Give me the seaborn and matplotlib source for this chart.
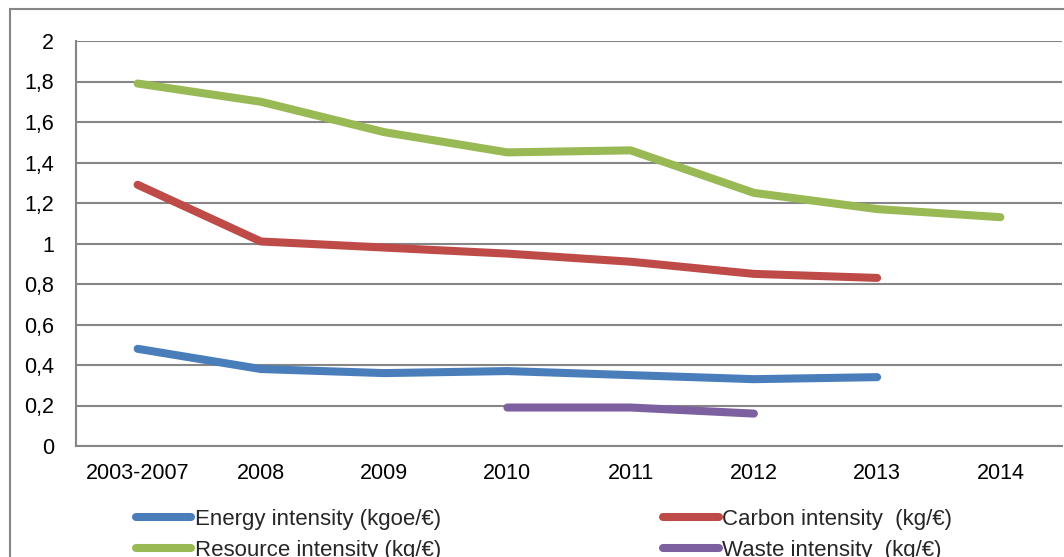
"""
Resource efficiency indicators - line chart
"""
import numpy as np
import pandas as pd
import matplotlib
matplotlib.use('Agg')
import matplotlib.pyplot as plt
from matplotlib.lines import Line2D
from matplotlib.patches import Rectangle
from matplotlib.ticker import FixedLocator, FuncFormatter
import seaborn as sns

# data
periods = ['2003-2007', '2008', '2009', '2010', '2011', '2012', '2013', '2014']
energy = [0.48, 0.38, 0.36, 0.37, 0.35, 0.33, 0.34, None]
carbon = [1.29, 1.01, 0.98, 0.95, 0.91, 0.85, 0.83, None]
resource = [1.79, 1.70, 1.55, 1.45, 1.46, 1.25, 1.17, 1.13]
waste = [None, None, None, 0.19, 0.19, 0.16, None, None]

series_names = ['Energy intensity (kgoe/€)', 'Carbon intensity  (kg/€)',
                'Resource intensity (kg/€)', 'Waste intensity  (kg/€)']
series_values = [energy, carbon, resource, waste]
colors = ['#4A7EBB', '#BE4B48', '#98B954', '#7D60A0']
y_ticks = [0, 0.2, 0.4, 0.6, 0.8, 1, 1.2, 1.4, 1.6, 1.8, 2]

rows = []
for name, vals in zip(series_names, series_values):
    for i, v in enumerate(vals):
        if v is not None:
            rows.append({'pos': i, 'period': periods[i], 'value': v, 'series': name})
df = pd.DataFrame(rows)

sns.set_theme(style='white')
plt.rcParams['font.family'] = ['Liberation Sans', 'DejaVu Sans']

fig = plt.figure(figsize=(10.64, 5.57), dpi=100)
ax = fig.add_axes([76 / 1064, 1 - 446 / 557, 986 / 1064, 405 / 557])

grid_col = '#868686'
ax.set_axisbelow(True)
ax.yaxis.grid(True, color=grid_col, linewidth=1.5)

sns.lineplot(data=df, x='pos', y='value', hue='series', hue_order=series_names,
             palette=dict(zip(series_names, colors)), linewidth=5.8,
             solid_capstyle='round', legend=False, ax=ax, sort=False)

ax.set_xlim(-0.5, len(periods) - 0.5)
ax.set_ylim(0, 2)
ax.set_xlabel('')
ax.set_ylabel('')

# x: labels at category centres, tick marks at boundaries
ax.xaxis.set_major_locator(FixedLocator(range(len(periods))))
ax.set_xticklabels(periods)
ax.xaxis.set_minor_locator(FixedLocator(np.arange(-0.5, len(periods), 1.0)))
ax.tick_params(axis='x', which='major', length=0, pad=12, labelsize=15.5, colors='black')
ax.tick_params(axis='x', which='minor', length=5, width=1.5, color=grid_col, direction='out')

ax.set_yticks(y_ticks)
ax.yaxis.set_major_formatter(FuncFormatter(lambda v, p: f'{v:g}'.replace('.', ',')))
ax.tick_params(axis='y', length=5, width=1.5, color=grid_col, direction='out',
               pad=11, labelsize=15.5, labelcolor='black')

for s in ['top', 'right']:
    ax.spines[s].set_visible(False)
for s in ['left', 'bottom']:
    ax.spines[s].set_color(grid_col)
    ax.spines[s].set_linewidth(1.5)

# legend (column-wise fill: Energy, Resource | Carbon, Waste)
handles = [Line2D([], [], color=c, linewidth=5.8, solid_capstyle='round') for c in colors]
order = [0, 2, 1, 3]
fig.legend([handles[i] for i in order], [series_names[i] for i in order],
           loc='upper left', bbox_to_anchor=(127 / 1064, 1 - 500 / 557), ncol=2,
           frameon=False, fontsize=16, handlelength=2.5, handletextpad=0.15,
           columnspacing=10.0, labelspacing=0.46, borderaxespad=0)

# outer chart border (partially cropped in the reference)
fig.add_artist(Rectangle((10 / 1064, -0.1), 1.2, 1.1 - 9 / 557, transform=fig.transFigure,
                         fill=False, edgecolor=grid_col, linewidth=1.5))

fig.savefig('out.png', dpi=100)
